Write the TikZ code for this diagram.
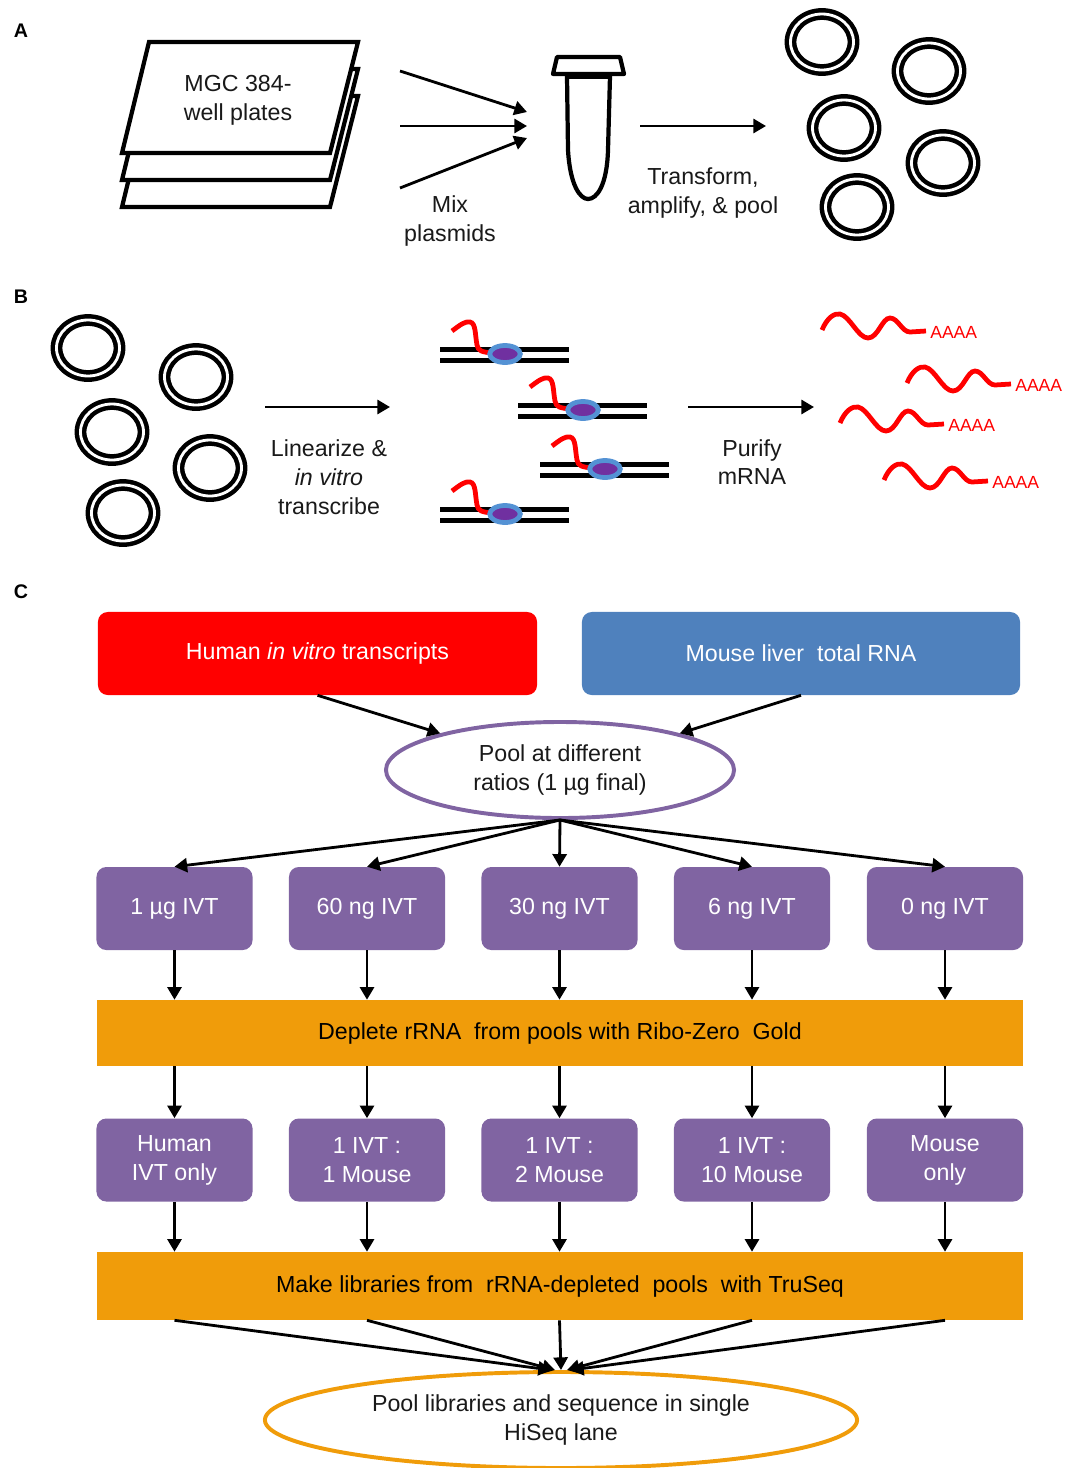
\documentclass[tikz,border=0pt]{standalone}
\usepackage{fontspec}
\setmainfont{Liberation Sans}
\usetikzlibrary{arrows.meta,shapes.geometric}
\definecolor{ivtred}{RGB}{255,0,0}
\definecolor{mouseblue}{RGB}{79,129,189}
\definecolor{boxpurple}{RGB}{128,100,162}
\definecolor{barorange}{RGB}{240,156,10}
\definecolor{polblue}{RGB}{84,146,212}
\definecolor{polpurple}{RGB}{112,48,160}
\definecolor{txtgray}{RGB}{25,25,25}
\begin{document}
\begin{tikzpicture}[x=0.025cm, y=-0.025cm, font=\fontsize{16.5}{20.5}\selectfont, text=txtgray,
		arr/.style={line width=2pt, -{Triangle[length=9pt,width=10pt]}},
		plate/.style={line width=3pt, fill=white},
		cbox/.style={rounded corners=7pt, minimum width=3.9cm, minimum height=2.075cm, text=white, align=center, inner sep=0pt},
		bar/.style={fill=barorange, minimum width=23.15cm, inner sep=0pt, text=black},
		panel/.style={font=\fontsize{14}{16}\bfseries\selectfont, text=black}]
	\useasboundingbox (0,0) rectangle (1068,1468);
	\node[panel] (labA) at (21,31) {A};
	\node[panel] (labB) at (21,297) {B};
	\node[panel] (labC) at (21,592) {C};
	\foreach \dy in {54,27,0} {
		\filldraw[plate] (149,42+\dy) -- (358,42+\dy) -- (330,153+\dy) -- (122,153+\dy) -- cycle;
	}
	\node[align=center] (plates) at (238,100) {MGC 384-\\well plates};
	\coordinate (mixtop) at (527,112);
	\coordinate (mixmid) at (527,126);
	\coordinate (mixbot) at (527,138);
	\draw[arr] (400,71) -- (mixtop);
	\draw[arr] (400,126) -- (mixmid);
	\draw[arr] (400,188) -- (mixbot);
	\node[align=center] (mix) at (450,221) {Mix\\plasmids};
	\filldraw[line width=3pt, fill=white] (567,76) -- (568,150) .. controls (570,185) and (580,199) .. (588,199) .. controls (597,199) and (607,185) .. (608,150) -- (610,76);
	\filldraw[line width=3pt, fill=white, line join=round] (557,57) -- (620,57) -- (624,74) -- (553,74) -- cycle;
	\draw[line width=3pt] (567,77) -- (610,77);
	\coordinate (cells) at (766,126);
	\draw[arr] (640,126) -- (cells);
	\node[align=center] (transform) at (703,193) {Transform,\\amplify, \& pool};
	\foreach \x/\y in {822/42,929/71,844/128,943/163,857/207,88/348,196/377,112/432,210/468,123/513} {
		\draw[line width=8.4pt] (\x,\y) ellipse[x radius=31.5, y radius=28];
		\draw[white, line width=2pt] (\x,\y) ellipse[x radius=31.5, y radius=28];
	}
	\coordinate (ivtin) at (390,407);
	\draw[arr] (265,407) -- (ivtin);
	\node[align=center] (linearize) at (329,477) {Linearize \&\\\textit{in vitro}\\transcribe};
	\foreach \x/\y in {440/355,518/411,540/470,440/515} {
		\draw[line width=3.6pt] (\x,\y-5.5) -- +(129,0);
		\draw[line width=3.6pt] (\x,\y+5.5) -- +(129,0);
		\draw[red, line width=3.4pt] (\x+12,\y-24) .. controls (\x+20,\y-30) and (\x+25,\y-34) .. (\x+30,\y-33) .. controls (\x+36,\y-32) and (\x+35,\y-20) .. (\x+37,\y-10) .. controls (\x+38,\y-4) and (\x+42,\y-3) .. (\x+52,\y-2);
		\filldraw[fill=polpurple, draw=polblue, line width=3.4pt] (\x+65,\y-1) ellipse[x radius=15.3, y radius=8.5];
	}
	\coordinate (mrna) at (814,407);
	\draw[arr] (688,407) -- (mrna);
	\node[align=center] (purify) at (752,462) {Purify\\mRNA};
	\foreach \dx/\dy [count=\k] in {0/0,85/53,18/93,62/150} {
		\begin{scope}[shift={(822+\dx,330+\dy)}]
			\draw[red, line width=3.4pt] (0,0) .. controls (5,-12) and (12,-17) .. (18,-16) .. controls (28,-14) and (36,8) .. (46,8) .. controls (56,8) and (60,-12) .. (68,-12) .. controls (76,-12) and (80,2) .. (88,2) -- (104,1);
			\node[red, anchor=base west, inner sep=0pt, font=\fontsize{12.5}{14}\selectfont] (tail\k) at (108,8) {AAAA};
		\end{scope}
	}
	\node[cbox, fill=ivtred, minimum width=10.975cm] (human) at (317.5,653.5) {Human \textit{in vitro} transcripts};
	\node[cbox, fill=mouseblue, minimum width=10.95cm] (mouse) at (801,653.5) {Mouse liver\ \ total RNA};
	\node[draw=boxpurple, line width=2.8pt, ellipse, minimum width=8.7cm, minimum height=2.4cm, inner sep=0pt, align=center] (pool) at (560,770) {Pool at different\\ratios (1 µg final)};
	\draw[arr] (human.south) -- (pool.163);
	\draw[arr] (mouse.south) -- (pool.17);
	\foreach \i/\x/\t in {1/174.5/1 µg IVT,2/367/60 ng IVT,3/559.5/30 ng IVT,4/752/6 ng IVT,5/945/0 ng IVT} {
		\node[cbox, fill=boxpurple] (ivt\i) at (\x,908.5) {\t};
	}
	\node[bar, minimum height=1.65cm] (deplete) at (560,1033) {Deplete rRNA\ \ from pools with Ribo-Zero\ \ Gold};
	\foreach \i/\x/\t in {1/174.5/{Human\\IVT only},2/367/{1 IVT :\\1 Mouse},3/559.5/{1 IVT :\\2 Mouse},4/752/{1 IVT :\\10 Mouse},5/945/{Mouse\\only}} {
		\node[cbox, fill=boxpurple] (mix\i) at (\x,1160) {\t};
	}
	\node[bar, minimum height=1.7cm] (libs) at (560,1286) {Make libraries from\ \ rRNA-depleted\ \ pools\ \ with TruSeq};
	\node[draw=barorange, line width=2.8pt, ellipse, minimum width=14.8cm, minimum height=2.4cm, inner sep=0pt, align=center] (seq) at (561,1420) {Pool libraries and sequence in single\\HiSeq lane};
	\foreach \i in {1,...,5} {
		\draw[arr] (pool.south) -- (ivt\i.north);
		\draw[arr] (ivt\i.south) -- (ivt\i.south |- deplete.north);
		\draw[arr] (ivt\i.south |- deplete.south) -- (mix\i.north);
		\draw[arr] (mix\i.south) -- (mix\i.south |- libs.north);
	}
	\foreach \i/\dx in {1/-10,2/-6,3/0,4/6,5/10} {
		\draw[arr] (mix\i.south |- libs.south) -- ([xshift=\dx*0.025cm]seq.north);
	}
\end{tikzpicture}
\end{document}
